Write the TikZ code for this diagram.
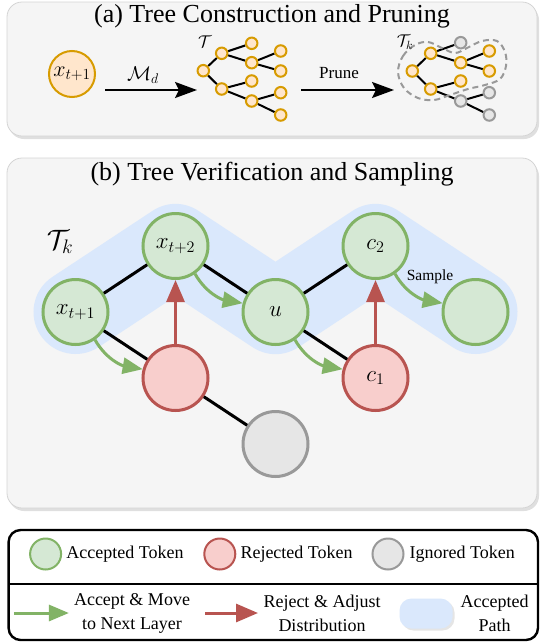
\RequirePackage{fix-cm}
\documentclass[tikz,border=0pt]{standalone}
\usepackage{amsmath,amssymb}
\usepackage[no-math]{fontspec}
\setmainfont{Liberation Serif}
\newfontfamily\tms{Liberation Serif}
\usetikzlibrary{arrows.meta,positioning,shadows}
\definecolor{ink}{HTML}{000000}
\definecolor{org}{HTML}{D79B00}
\definecolor{orgL}{HTML}{FFE6CC}
\definecolor{grn}{HTML}{82B366}
\definecolor{grnL}{HTML}{D5E8D4}
\definecolor{rred}{HTML}{B85450}
\definecolor{rredL}{HTML}{F8CECC}
\definecolor{gry}{HTML}{999999}
\definecolor{gryL}{HTML}{E6E6E6}
\definecolor{bluL}{HTML}{DAE8FC}
\definecolor{pnl}{HTML}{F5F5F5}
\definecolor{pnlD}{HTML}{D4D4D4}
\pgfdeclarelayer{bg}
\pgfdeclarelayer{band}
\pgfsetlayers{bg,band,main}
\tikzset{
  panel/.style ={fill=pnl, draw=pnlD, line width=.8pt, rounded corners=15pt,
                 drop shadow={shadow xshift=2pt, shadow yshift=-3pt, opacity=.25}},
  ttl/.style   ={font=\tms\fontsize{26}{30}\selectfont, inner sep=0pt},
  tok/.style   ={circle, line width=3pt, minimum size=65pt, inner sep=0pt,
                 font=\fontsize{23}{26}\selectfont},
  acc/.style   ={tok, fill=grnL, draw=grn},
  rej/.style   ={tok, fill=rredL, draw=rred},
  ign/.style   ={tok, fill=gryL, draw=gry},
  seed/.style  ={circle, line width=2pt, minimum size=46pt, inner sep=0pt,
                 fill=orgL, draw=org, font=\fontsize{22}{24}\selectfont},
  tn/.style    ={circle, line width=2pt, minimum size=11.5pt, inner sep=0pt, fill=orgL, draw=org},
  tg/.style    ={tn, fill=gryL, draw=gry},
  tedge/.style ={line width=2pt, draw=ink},
  edge/.style  ={line width=3pt, draw=ink},
  arr/.style   ={-{Stealth[length=22pt,width=16pt,inset=4pt]}, line width=2.2pt, draw=ink},
  flow/.style  ={-{Triangle[length=20pt,width=16pt]}, line width=3pt, draw=grn},
  back/.style  ={-{Triangle[length=22pt,width=18pt]}, line width=3pt, draw=rred},
  band/.style  ={line width=84pt, line join=round, line cap=round, draw=bluL},
  cut/.style   ={draw=gry, line width=2pt, dash pattern=on 6pt off 4pt},
  lbl/.style   ={inner sep=0pt},
  ltxt/.style  ={inner sep=0pt, align=center, font=\tms\fontsize{18}{24}\selectfont},
  lgc/.style   ={circle, line width=2pt, minimum size=31pt, inner sep=0pt},
}
\begin{document}
\begin{tikzpicture}[x=1pt,y=-1pt]
  \useasboundingbox (0,0) rectangle (540,643);
  \begin{pgfonlayer}{bg}
    \draw[panel] (7,2) rectangle (537,136);
    \draw[panel] (7,158) rectangle (537,508);
  \end{pgfonlayer}

  % (a) construction and pruning
  \node[ttl](ta) at (272,16){(a) Tree Construction and Pruning};
  \node[seed](s) at (72,74){$x_{t+1}$};
  \coordinate (m1) at (105,90);
  \coordinate (m2) at (197,90);
  \draw[arr](m1)--(m2);
  \node[lbl, font=\fontsize{20}{24}\selectfont](md) at (143,75){$\mathcal{M}_d$};
  \node[tn](r)  at (203.3,70.7){};
  \node[tn](a1) at (221.7,53.3){};
  \node[tn](a2) at (221.7,89){};
  \node[tn](b1) at (251.7,43.3){};
  \node[tn](b2) at (251.7,62.7){};
  \node[tn](b3) at (251.7,81){};
  \node[tn](b4) at (251.7,101){};
  \node[tn](c1a) at (280.7,51){};
  \node[tn](c2a) at (280.7,71){};
  \node[tn](c3a) at (280.7,92.7){};
  \node[tn](c4a) at (280.7,115){};
  \begin{pgfonlayer}{band}
    \draw[tedge](r)--(a1) (r)--(a2) (a1)--(b1) (a1)--(b2) (b2)--(c1a) (b2)--(c2a)
      (a2)--(b3) (a2)--(b4) (b4)--(c3a) (b4)--(c4a);
  \end{pgfonlayer}
  \node[lbl, font=\fontsize{17}{20}\selectfont](tt) at (205,42){$\mathcal{T}$};

  \coordinate (p1) at (301,90);
  \coordinate (p2) at (394,90);
  \draw[arr](p1)--(p2);
  \node[lbl, font=\tms\fontsize{17}{20}\selectfont](pr) at (339,73){Prune};
  \draw[cut] plot[smooth cycle, tension=.6] coordinates {(398,72) (403,56) (415,45) (428,42)
    (442,48) (455,53) (467,48) (482,41) (497,41) (505,52) (506,66) (500,79) (485,85)
    (468,89) (450,95) (434,100) (418,98) (404,88)};
  \node[tn](q)  at (412.3,71){};
  \node[tn](q1) at (430.7,53.3){};
  \node[tn](q2) at (430.7,89){};
  \node[tg](e1) at (460.7,42.7){};
  \node[tn](e2) at (460.7,62.7){};
  \node[tn](e3) at (460.7,81){};
  \node[tg](e4) at (460.7,101){};
  \node[tn](f1) at (489.3,51){};
  \node[tn](f2) at (489.3,71){};
  \node[tg](f3) at (489.3,92.7){};
  \node[tg](f4) at (489.3,115){};
  \begin{pgfonlayer}{band}
    \draw[tedge](q)--(q1) (q)--(q2) (q1)--(e1) (q1)--(e2) (e2)--(f1) (e2)--(f2)
      (q2)--(e3) (q2)--(e4) (e4)--(f3) (e4)--(f4);
  \end{pgfonlayer}
  \node[lbl, font=\fontsize{17}{20}\selectfont](ttk) at (405,42){$\mathcal{T}_k$};

  % (b) verification and sampling
  \node[ttl](tb) at (272,174){(b) Tree Verification and Sampling};
  \node[acc](x1) at (75.5,312){$x_{t+1}$};
  \node[acc](x2) at ([xshift=100pt,yshift=66pt]x1){$x_{t+2}$};
  \node[acc](u)  at ([xshift=200pt]x1){$u$};
  \node[acc](c2) at ([xshift=200pt]x2){$c_2$};
  \node[acc](smp) at ([xshift=200pt]u){};
  \node[rej](rj) at ([xshift=100pt,yshift=-66pt]x1){};
  \node[rej](c1) at ([xshift=100pt,yshift=-66pt]u){$c_1$};
  \node[ign](ig) at ([yshift=-66pt]rj -| u){};
  \node[lbl, font=\fontsize{28}{32}\selectfont](tk) at (60,242){$\mathcal{T}_k$};
  \begin{pgfonlayer}{band}
    \draw[band](x1.center)--(x2.center)--(u.center)--(c2.center)--(smp.center);
  \end{pgfonlayer}
  \draw[edge](x1)--(x2) (x2)--(u) (u)--(c2) (x1)--(rj) (rj)--(ig) (u)--(c1);
  \draw[flow](x1.-55) to[out=-60,in=170] (rj.165);
  \draw[flow](x2.-55) to[out=-60,in=170] (u.165);
  \draw[flow](u.-55) to[out=-60,in=170] (c1.165);
  \draw[flow](c2.-55) to[out=-60,in=170] (smp.165);
  \node[lbl, font=\tms\fontsize{15.5}{18}\selectfont](sp) at (430,277){Sample};
  \draw[back](rj)--(x2);
  \draw[back](c1)--(c2);

  % legend
  \draw[line width=2.4pt, draw=ink, fill=white, rounded corners=12pt] (8.6,530) rectangle (538,640);
  \draw[line width=2pt, draw=ink] (8.6,583.7) -- (538,583.7);
  \node[lgc, fill=grnL, draw=grn](l1) at (45.6,554){};
  \node[ltxt, right=4pt of l1](lt1){Accepted Token};
  \node[lgc, fill=rredL, draw=rred](l2) at (219.8,554){};
  \node[ltxt, right=4pt of l2](lt2){Rejected Token};
  \node[lgc, fill=gryL, draw=gry](l3) at (388,554){};
  \node[ltxt, right=5pt of l3](lt3){Ignored Token};
  \coordinate (g1) at (13.8,613);
  \coordinate (g2) at (68.9,613);
  \draw[flow](g1)--(g2);
  \node[ltxt](lt4) at (132,613){Accept \& Move\\to Next Layer};
  \coordinate (h1) at (205,613);
  \coordinate (h2) at (258,613);
  \draw[back](h1)--(h2);
  \node[ltxt](lt5) at (322,613){Reject \& Adjust\\Distribution};
  \node[fill=bluL, rounded corners=12pt, minimum width=53pt, minimum height=30pt,
        drop shadow={shadow xshift=2pt, shadow yshift=-2pt, opacity=.2}](pb) at (426,613.5){};
  \node[ltxt](lt6) at (494.7,613){Accepted\\Path};
\end{tikzpicture}
\end{document}
